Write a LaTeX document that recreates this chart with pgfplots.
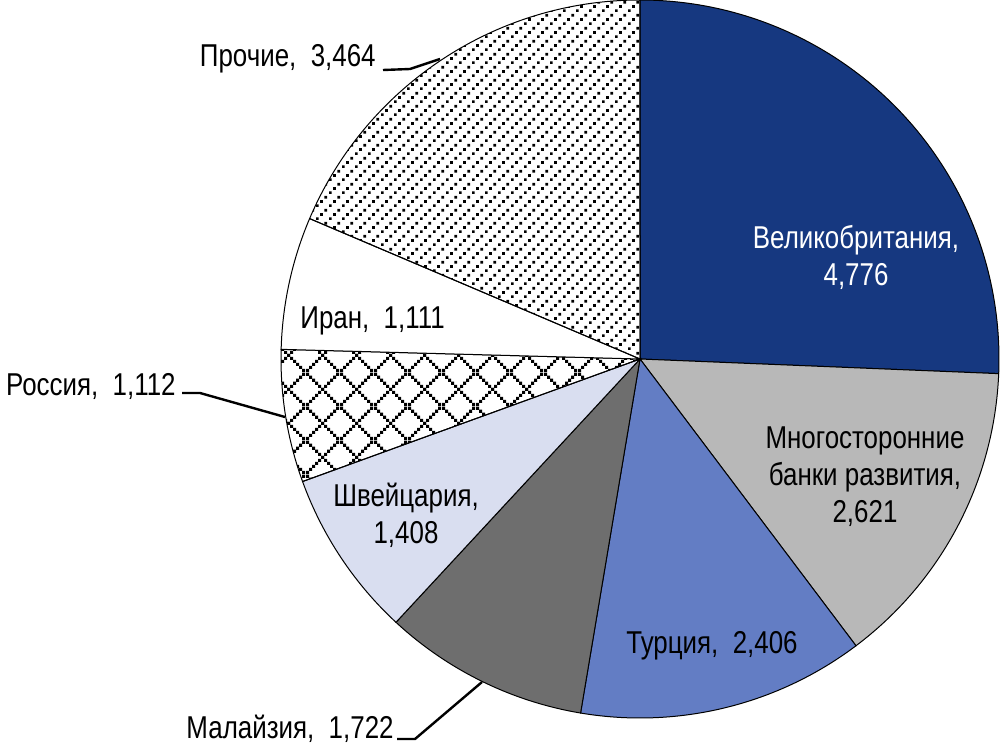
\documentclass[border=0pt]{standalone}
\usepackage{fontspec}
\setmainfont{Liberation Sans}[FakeStretch=0.82]
\usepackage{pgfplots}
\usepackage{pgfplotstable}
\pgfplotsset{compat=1.18}
\usetikzlibrary{patterns.meta}

\definecolor{cUK}{RGB}{22,56,128}
\definecolor{cMDB}{RGB}{184,184,184}
\definecolor{cTR}{RGB}{99,125,196}
\definecolor{cMY}{RGB}{110,110,110}
\definecolor{cCH}{RGB}{217,222,240}

\tikzdeclarepattern{
  name=diagdots,
  bottom left={(0pt,0pt)},
  top right={(6.6pt,6.6pt)},
  tile size={(6.6pt,6.6pt)},
  code={
    \fill (0pt,0pt) rectangle (1.45pt,1.45pt);
    \fill (2.2pt,2.2pt) rectangle (3.65pt,3.65pt);
    \fill (4.4pt,4.4pt) rectangle (5.85pt,5.85pt);
  }
}
\tikzdeclarepattern{
  name=crossdots,
  bottom left={(0pt,0pt)},
  top right={(17pt,17pt)},
  tile size={(17pt,17pt)},
  code={
    \foreach \k in {0,...,10} {
      \fill (\k*1.5454pt,\k*1.5454pt) rectangle ++(1.6pt,1.6pt);
      \fill (\k*1.5454pt,15.4546pt-\k*1.5454pt) rectangle ++(1.6pt,1.6pt);
    }
  }
}

\tikzset{
  sUK/.style={fill=cUK},
  sMDB/.style={fill=cMDB},
  sTR/.style={fill=cTR},
  sMY/.style={fill=cMY},
  sCH/.style={fill=cCH},
  sRU/.style={pattern=crossdots},
  sIR/.style={fill=white},
  sOT/.style={pattern=diagdots},
}

\pgfplotstableread{
value style
4776 sUK
2621 sMDB
2406 sTR
1722 sMY
1408 sCH
1112 sRU
1111 sIR
3464 sOT
}\piedata

\begin{document}
\begin{tikzpicture}[font=\fontsize{15.8pt}{18.5pt}\selectfont]
\begin{axis}[
  x=0.5pt, y=0.5pt,
  xmin=-640, xmax=360, ymin=-386, ymax=359,
  hide axis, clip=false,
]
\def\pietotal{0}
\pgfplotsforeachungrouped \i in {0,...,7} {
  \pgfplotstablegetelem{\i}{value}\of\piedata
  \pgfmathsetmacro\pietotal{\pietotal+\pgfplotsretval/1000}
}
\def\cumang{90}
\pgfplotsforeachungrouped \i in {0,...,7} {
  \pgfplotstablegetelem{\i}{value}\of\piedata \let\sliceval=\pgfplotsretval
  \pgfplotstablegetelem{\i}{style}\of\piedata \let\slicestyle=\pgfplotsretval
  \pgfmathsetmacro\angA{\cumang}
  \pgfmathsetmacro\angB{\cumang-(\sliceval/1000)/\pietotal*360}
  \edef\temp{\noexpand\filldraw[\slicestyle,draw=black,line width=0.5pt] (axis cs:0,0) -- (axis cs:{359*cos(\angA)},{359*sin(\angA)}) arc[start angle=\angA,end angle=\angB,radius=179.5pt] -- cycle;}
  \temp
  \let\cumang=\angB
}

% labels
\node[anchor=center,align=center,text=white] at (axis cs:216,102) {Великобритания,\\4,776};
\node[anchor=center,align=center] at (axis cs:225,-118) {Многосторонние\\банки развития,\\2,621};
\node[anchor=base] at (axis cs:72,-294) {Турция,\ \ 2,406};
\node[anchor=center,align=center] at (axis cs:-234,-156) {Швейцария,\\1,408};
\node[anchor=base west,inner sep=0pt] at (axis cs:-340,31) {Иран,\ \ 1,111};
\node[anchor=base east,inner sep=0pt] at (axis cs:-264,292) {Прочие,\ \ 3,464};
\node[anchor=base east,inner sep=0pt] at (axis cs:-464,-36) {Россия,\ \ 1,112};
\node[anchor=base east,inner sep=0pt] at (axis cs:-246,-379) {Малайзия,\ \ 1,722};

% leader lines
\draw[line width=1.2pt] (axis cs:-257,289) -- (axis cs:-230,290) -- (axis cs:-200,300);
\draw[line width=1.2pt] (axis cs:-458,-34) -- (axis cs:-440,-34) -- (axis cs:-355,-58);
\draw[line width=1.2pt] (axis cs:-243,-380) -- (axis cs:-225,-380) -- (axis cs:-158,-323);
\end{axis}
\pgfresetboundingbox
\useasboundingbox (current axis.south west) rectangle (current axis.north east);
\end{tikzpicture}
\end{document}
